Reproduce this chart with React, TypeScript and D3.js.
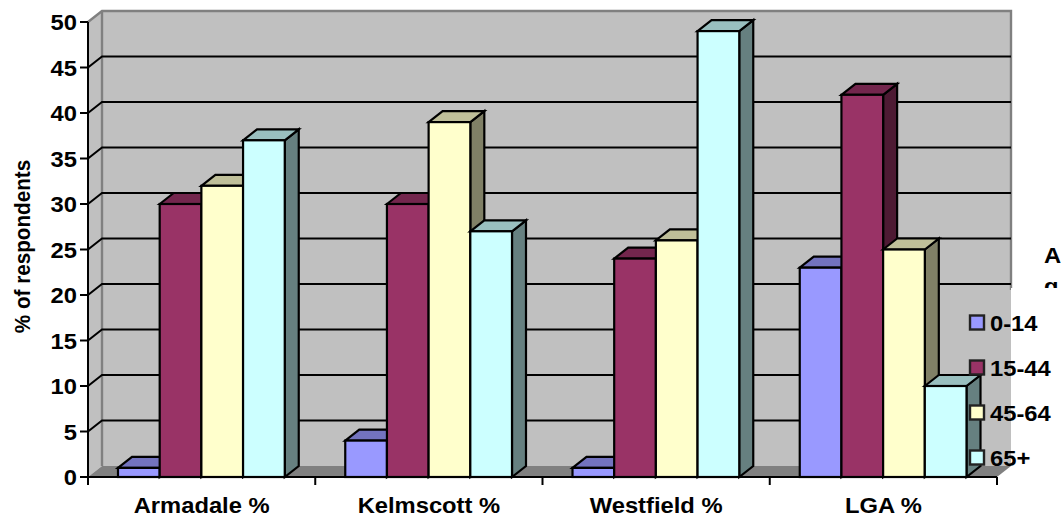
import React from "react";
import * as d3 from "d3";

const categories = ["Armadale %", "Kelmscott %", "Westfield %", "LGA %"];
const seriesNames = ["0-14", "15-44", "45-64", "65+"];
const seriesColors = ["#9999FF", "#993366", "#FFFFCC", "#CCFFFF"];
const armadale = [1, 30, 32, 37];
const kelmscott = [4, 30, 39, 27];
const westfield = [1, 24, 26, 49];
const lga = [23, 42, 25, 10];
const valuesByCategory = [armadale, kelmscott, westfield, lga];
const yTicks = [0, 5, 10, 15, 20, 25, 30, 35, 40, 45, 50];

const W = 1062;
const H = 517;
const left = 88;
const right = 997;
const bottom = 477;
const top = 22;
const depthX = 14;
const depthY = 11;
const FONT = "'Liberation Sans', Arial, sans-serif";
const FONT_SIZE = 22;
const WIDEN = 1.08;

const x0 = d3.scaleBand<string>().domain(categories).range([left, right]);
const x1 = d3
  .scaleBand<string>()
  .domain(seriesNames)
  .range([30, 227.25 - 30.5]);
const y = d3.scaleLinear().domain([0, 50]).range([bottom, top]);

const shade = (c: string, k: number) => {
  const r = d3.rgb(c);
  return d3.rgb(r.r * k, r.g * k, r.b * k).formatHex();
};
const poly = (pts: [number, number][]) => d3.line()(pts) + "Z";

// Horizontal labels are set slightly wide, as the chart's lettering is.
function Label({ x, y: ly, anchor, children }: { x: number; y: number; anchor?: string; children: React.ReactNode }) {
  return (
    <text
      transform={`translate(${x},${ly}) scale(${WIDEN},1)`}
      textAnchor={anchor ?? "start"}
      fontSize={FONT_SIZE}
    >
      {children}
    </text>
  );
}

function Bar({ x, w, v, color }: { x: number; w: number; v: number; color: string }) {
  const t = y(v);
  const sw = 2.2;
  return (
    <g stroke="#000" strokeWidth={sw} strokeLinejoin="miter">
      <path
        d={poly([[x + w, t], [x + w + depthX, t - depthY], [x + w + depthX, bottom - depthY], [x + w, bottom]])}
        fill={shade(color, 0.5)}
      />
      <path
        d={poly([[x, t], [x + depthX, t - depthY], [x + w + depthX, t - depthY], [x + w, t]])}
        fill={shade(color, 0.75)}
      />
      <rect x={x} y={t} width={w} height={bottom - t} fill={color} />
    </g>
  );
}

export default function App() {
  const wallL = left + depthX;
  const wallR = right + depthX;
  const wallT = top - depthY;
  const wallB = bottom - depthY;
  return (
    <svg
      width={W}
      height={H}
      viewBox={`0 0 ${W} ${H}`}
      style={{ position: "absolute", left: 0, top: 0, background: "#fff" }}
      fontFamily={FONT}
      fontWeight="bold"
    >
      {/* wall title, cut off by the legend panel below it */}
      <Label x={1044} y={263}>A</Label>
      <Label x={1044} y={294}>g</Label>

      {/* back and side walls */}
      <path d={poly([[left, top], [wallL, wallT], [wallL, wallB], [left, bottom]])} fill="#C0C0C0" />
      <rect x={wallL} y={wallT} width={wallR - wallL} height={wallB - wallT} fill="#C0C0C0" />
      <path d={`M${left},${top}L${wallL},${wallT}H${wallR}V300`} fill="none" stroke="#808080" strokeWidth={2.4} />
      <path d={`M${wallL},${wallT}V${wallB}`} fill="none" stroke="#808080" strokeWidth={2.4} />

      {/* gridlines on the back wall */}
      {yTicks.filter((t) => t > 0 && t < 50).map((t) => (
        <path
          key={t}
          d={`M${left},${y(t)}L${wallL},${y(t) - depthY}H${wallR}`}
          fill="none"
          stroke="#000"
          strokeWidth={2}
        />
      ))}

      {/* legend panel */}
      <rect x={926} y={290} width={wallR - 926} height={wallB - 290} fill="#C0C0C0" />
      <rect x={wallR} y={288} width={W - wallR} height={H - 288} fill="#fff" />

      {/* floor */}
      <path
        d={poly([[left, bottom], [wallL, wallB], [wallR, wallB], [right, bottom]])}
        fill="#808080"
      />

      {/* bars */}
      {categories.map((c, i) =>
        seriesNames.map((s, j) => (
          <Bar
            key={c + s}
            x={(x0(c) as number) + (x1(s) as number)}
            w={x1.bandwidth()}
            v={valuesByCategory[i][j]}
            color={seriesColors[j]}
          />
        ))
      )}

      {/* value axis */}
      <line x1={left} x2={left} y1={top} y2={bottom} stroke="#000" strokeWidth={2} />
      {yTicks.map((t) => (
        <g key={t}>
          <line x1={left - 8} x2={left} y1={y(t)} y2={y(t)} stroke="#000" strokeWidth={2} />
          <Label x={left - 11} y={y(t) + 8} anchor="end">{t}</Label>
        </g>
      ))}

      {/* category axis */}
      <line x1={left - 8} x2={right} y1={bottom} y2={bottom} stroke="#000" strokeWidth={2.2} />
      {[...categories.map((c) => x0(c) as number), right].map((px) => (
        <line key={px} x1={px} x2={px} y1={bottom} y2={bottom + 8} stroke="#000" strokeWidth={2} />
      ))}
      {categories.map((c) => (
        <Label key={c} x={(x0(c) as number) + x0.bandwidth() / 2} y={512.5} anchor="middle">
          {c}
        </Label>
      ))}

      <text transform="translate(29.5,246.5) rotate(-90) scale(0.94,1)" textAnchor="middle" fontSize={FONT_SIZE}>
        % of respondents
      </text>

      {/* legend */}
      {seriesNames.map((s, j) => {
        const cy = [322.5, 367.5, 412.5, 457.5][j];
        return (
          <g key={s}>
            <rect x={970} y={cy - 7} width={14} height={14} fill={seriesColors[j]} stroke="#222" strokeWidth={2.4} />
            <Label x={990} y={cy + 8}>{s}</Label>
          </g>
        );
      })}
    </svg>
  );
}
